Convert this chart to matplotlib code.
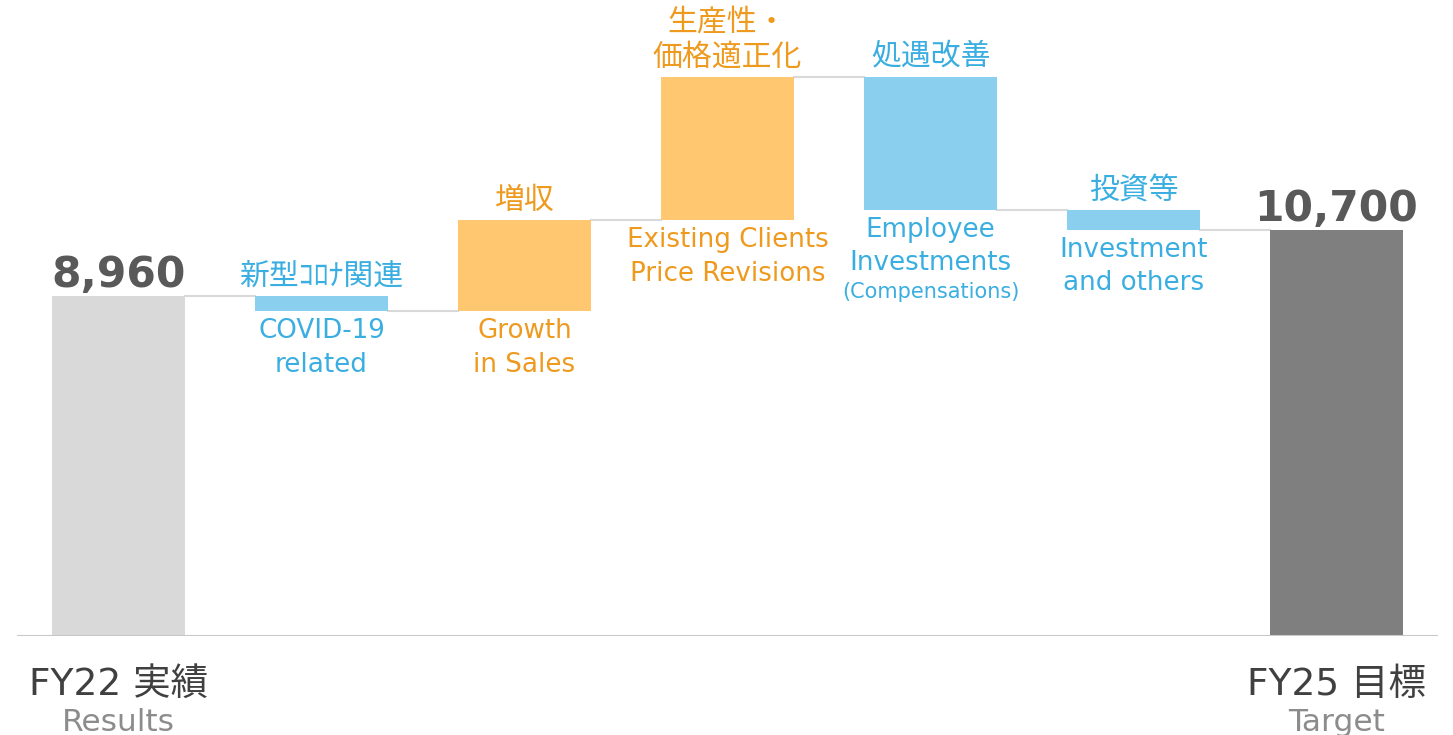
import matplotlib.pyplot as plt

plt.rcParams['font.family'] = ['DejaVu Sans', 'Noto Sans CJK JP']

# data
start_value = 8960
end_value = 10700
steps = [-400, 2400, 3770, -3500, -530]
jp_labels = ['新型ｺﾛﾅ関連', '増収', '生産性・\n価格適正化', '処遇改善', '投資等']
en_labels = ['COVID-19\nrelated', 'Growth\nin Sales', 'Existing Clients\nPrice Revisions',
             'Employee\nInvestments', 'Investment\nand others']
en_notes = ['', '', '', '(Compensations)', '']
end_labels = [('FY22 実績', 'Results'), ('FY25 目標', 'Target')]

orange_bar = '#FFC870'
blue_bar = '#8ACFEE'
orange_txt = '#EE9A1E'
blue_txt = '#3AAEE0'
line_col = '#D9D9D9'

fig = plt.figure(figsize=(14.53, 7.35), dpi=100)
ax = fig.add_axes([17 / 1453, 1 - 636 / 735, (1438 - 17) / 1453, 636 / 735])
ax.set_xlim(-0.5, 6.5)
ax.set_ylim(0, 636 / 0.03795)
ax.axis('off')
ax.axhline(0, color='#C8C8C8', lw=1.5, zorder=3)

w = 0.66
ax.bar(0, start_value, width=w, color='#D9D9D9', zorder=2)
ax.bar(6, end_value, width=w, color='#7F7F7F', zorder=2)

level = start_value
prev_right = 0 + w / 2
for i, d in enumerate(steps):
    x = i + 1
    new = level + d
    lo, hi = min(level, new), max(level, new)
    up = d > 0
    ax.bar(x, hi - lo, bottom=lo, width=w, color=orange_bar if up else blue_bar, zorder=2)
    ax.plot([prev_right, x - w / 2], [level, level], color=line_col, lw=1.5, zorder=1)
    tc = orange_txt if up else blue_txt
    ax.annotate(jp_labels[i], (x, hi), xytext=(0, 4), textcoords='offset points',
                ha='center', va='bottom', fontsize=21.5, color=tc, linespacing=1.2)
    ax.annotate(en_labels[i], (x, lo), xytext=(0, -5), textcoords='offset points',
                ha='center', va='top', fontsize=18.8, color=tc, linespacing=1.38)
    if en_notes[i]:
        ax.annotate(en_notes[i], (x, lo), xytext=(0, -52), textcoords='offset points',
                    ha='center', va='top', fontsize=15, color=tc)
    prev_right = x + w / 2
    level = new
ax.plot([prev_right, 6 - w / 2], [level, level], color=line_col, lw=1.5, zorder=1)

for x, v in [(0, start_value), (6, end_value)]:
    ax.annotate(f'{v:,}', (x, v), xytext=(0, 0), textcoords='offset points',
                ha='center', va='bottom', fontsize=30.5, fontweight='bold', color='#595959')

for x, (jp, en) in zip([0, 6], end_labels):
    ax.annotate(jp, (x, 0), xytext=(0, -22.5), textcoords='offset points',
                ha='center', va='top', fontsize=27, color='#404040')
    ax.annotate(en, (x, 0), xytext=(0, -52), textcoords='offset points',
                ha='center', va='top', fontsize=22.5, color='#8C8C8C')

fig.savefig('out.png', dpi=100)
